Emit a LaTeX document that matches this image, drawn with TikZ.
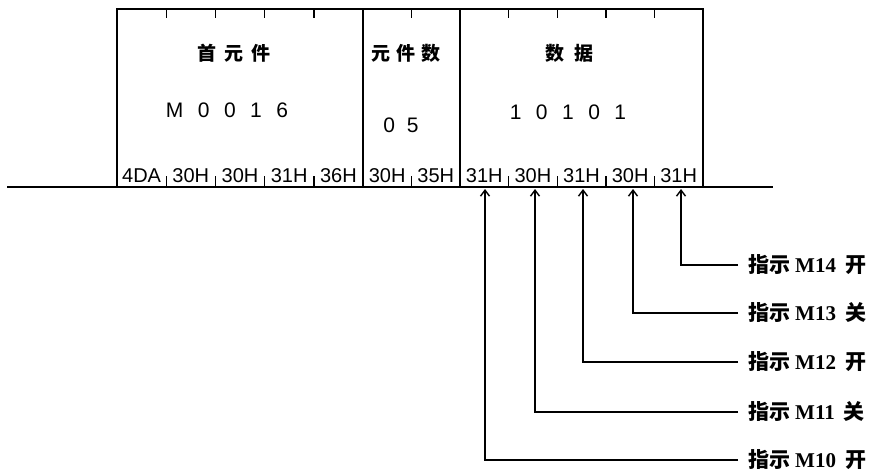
\documentclass[tikz,border=0pt]{standalone}
\usepackage{fontspec}
\setmainfont{Liberation Sans}
\newfontfamily\hexfont{Liberation Sans}
\newfontfamily\cjk{Noto Sans CJK SC}
\newfontfamily\lblserif{Liberation Serif}
\usetikzlibrary{arrows.meta}
\begin{document}
\begin{tikzpicture}[x=1pt,y=-1pt,
  ln/.style={line width=1.4pt},
  hex/.style={font=\hexfont\fontsize{20}{20}\selectfont, anchor=base, inner sep=0pt},
  head/.style={font=\cjk\bfseries\fontsize{19}{19}\selectfont, inner sep=0pt},
  val/.style={font=\hexfont\fontsize{21}{21}\selectfont, inner sep=0pt},
  lbl/.style={anchor=west, inner xsep=10pt, inner ysep=0pt, font=\fontsize{21}{21}\selectfont},
  arr/.style={ln, -{Straight Barb[length=6pt,width=9pt,line width=1.4pt]}}
]
\useasboundingbox (0,0) rectangle (872,472);
% frame
\coordinate (tl) at (117,9);
\coordinate (tr) at (703,9);
\coordinate (d1t) at (363,9);
\coordinate (d2t) at (460,9);
\coordinate (bl) at (117,187);
\coordinate (br) at (703,187);
\coordinate (d1b) at (363,187);
\coordinate (d2b) at (460,187);
\coordinate (lineL) at (7,187);
\coordinate (lineR) at (773,187);
\draw[ln] (bl) -- (tl) -- (tr) -- (br);
\draw[ln] (d1t) -- (d1b);
\draw[ln] (d2t) -- (d2b);
\draw[ln] (lineL) -- (lineR);
% ticks
\foreach \x in {166.2,215.4,264.6,313.8,411.5,508.6,557.2,605.8,654.4}{
  \draw[ln] (\x,9) -- (\x,18);
  \draw[ln] (\x,187) -- (\x,176);
}
% hex labels
\node[hex] (h1) at (141.6,182) {4DA};
\node[hex] (h2) at (190.8,182) {30H};
\node[hex] (h3) at (240.0,182) {30H};
\node[hex] (h4) at (289.2,182) {31H};
\node[hex] (h5) at (338.4,182) {36H};
\node[hex] (h6) at (387.2,182) {30H};
\node[hex] (h7) at (435.8,182) {35H};
\node[hex] (h8) at (484.3,182) {31H};
\node[hex] (h9) at (532.9,182) {30H};
\node[hex] (h10) at (581.5,182) {31H};
\node[hex] (h11) at (630.1,182) {30H};
\node[hex] (h12) at (678.7,182) {31H};
% headers
\node[head] (t1) at (234,53) {首\hspace{8pt}元\hspace{8pt}件};
\node[head] (t2) at (406,53) {元\hspace{6pt}件\hspace{6pt}数};
\node[head] (t3) at (569,53) {数\hspace{10pt}据};
% values
\node[val] (v1) at (227,110) {M\hspace{14.5pt}0\hspace{14.5pt}0\hspace{14.5pt}1\hspace{14.5pt}6};
\node[val] (v2) at (401,125) {0\hspace{12pt}5};
\node[val] (v3) at (568,112) {1\hspace{14.5pt}0\hspace{14.5pt}1\hspace{14.5pt}0\hspace{14.5pt}1};
% labels
\node[lbl] (l14) at (738,265) {{\cjk\bfseries 指示}\hspace{5pt}{\lblserif\bfseries M14}\hspace{9pt}{\cjk\bfseries 开}};
\node[lbl] (l13) at (738,313) {{\cjk\bfseries 指示}\hspace{5pt}{\lblserif\bfseries M13}\hspace{9pt}{\cjk\bfseries 关}};
\node[lbl] (l12) at (738,362) {{\cjk\bfseries 指示}\hspace{5pt}{\lblserif\bfseries M12}\hspace{9pt}{\cjk\bfseries 开}};
\node[lbl] (l11) at (738,412) {{\cjk\bfseries 指示}\hspace{5pt}{\lblserif\bfseries M11}\hspace{9pt}{\cjk\bfseries 关}};
\node[lbl] (l10) at (738,460) {{\cjk\bfseries 指示}\hspace{5pt}{\lblserif\bfseries M10}\hspace{9pt}{\cjk\bfseries 开}};
% arrow targets
\coordinate (a10) at (485,189);
\coordinate (a11) at (535,189);
\coordinate (a12) at (583,189);
\coordinate (a13) at (633,189);
\coordinate (a14) at (681,189);
\draw[arr] (l14.west) -| (a14);
\draw[arr] (l13.west) -| (a13);
\draw[arr] (l12.west) -| (a12);
\draw[arr] (l11.west) -| (a11);
\draw[arr] (l10.west) -| (a10);
\end{tikzpicture}
\end{document}
